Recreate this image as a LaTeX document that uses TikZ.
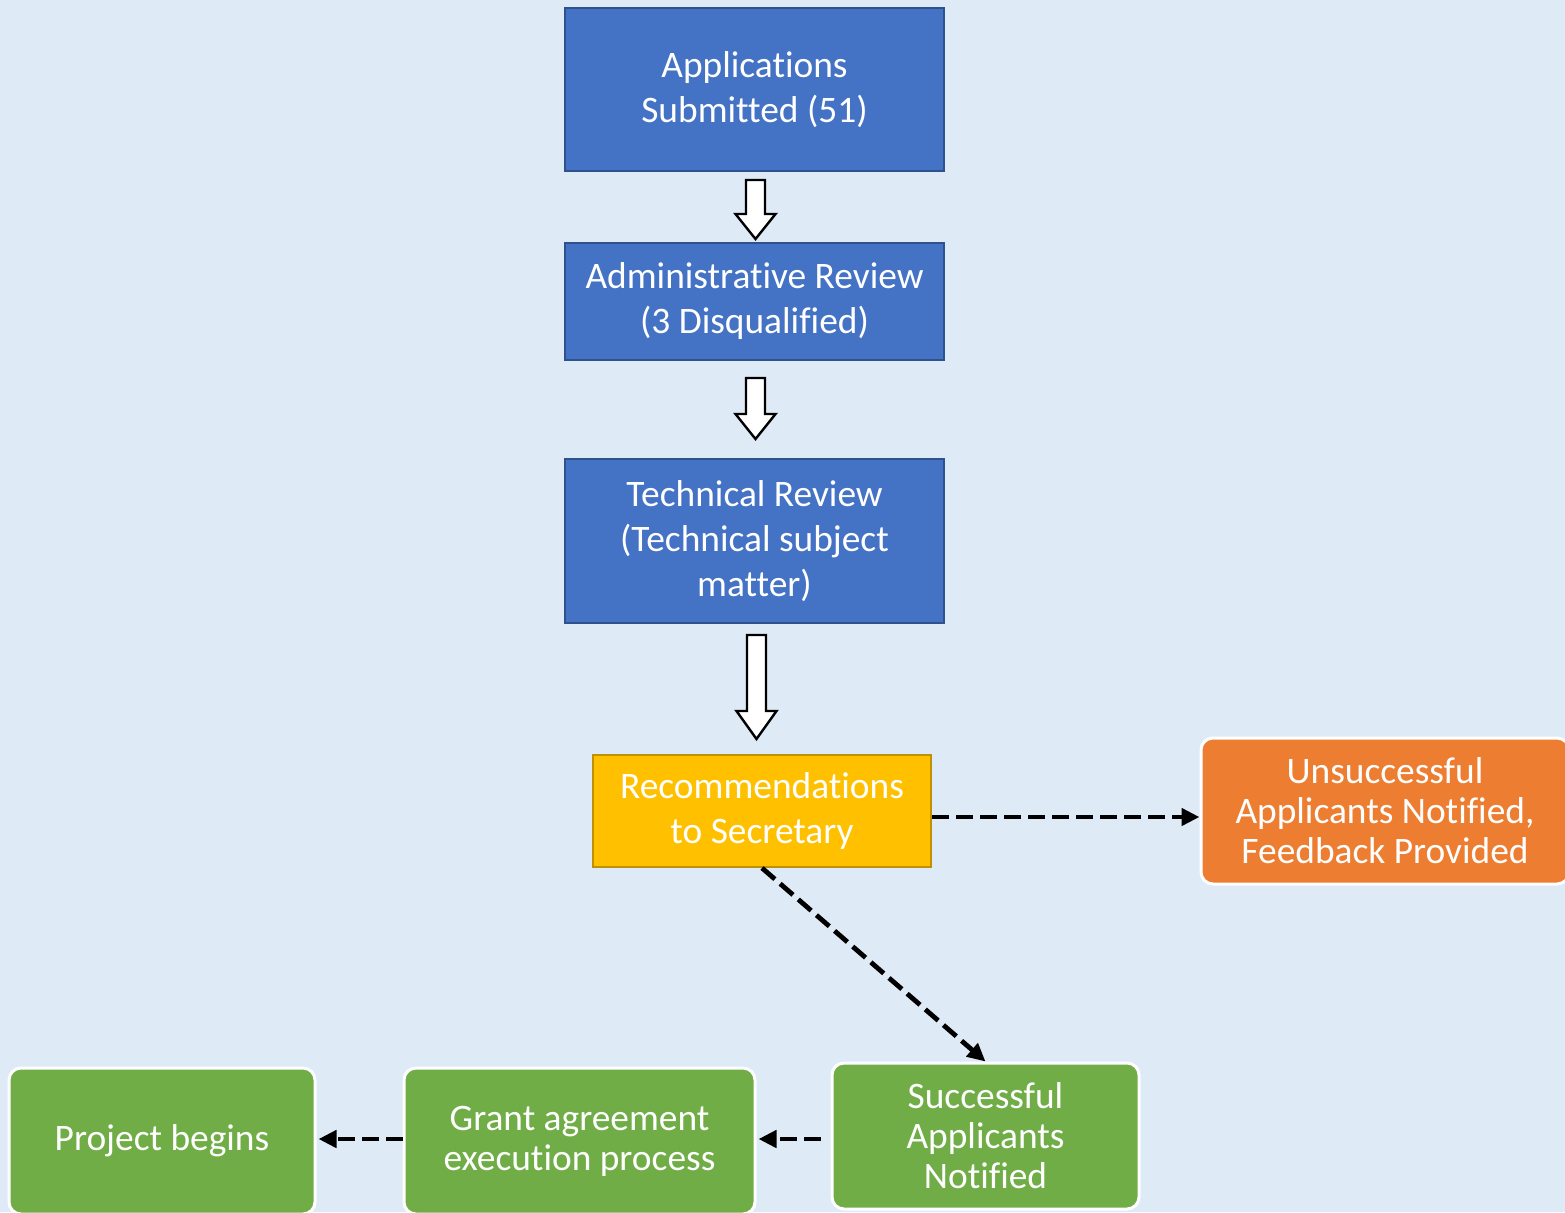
\documentclass[tikz,border=0pt]{standalone}
\usepackage{fontspec}
\setmainfont{Carlito}[Ligatures={NoCommon,NoRequired}]
\usetikzlibrary{arrows.meta,calc}
\definecolor{bg}{HTML}{DEEAF6}
\definecolor{blfill}{HTML}{4472C4}
\definecolor{bldraw}{HTML}{2F528F}
\definecolor{yefill}{HTML}{FFC000}
\definecolor{yedraw}{HTML}{BF9000}
\definecolor{orfill}{HTML}{ED7D31}
\definecolor{grfill}{HTML}{70AD47}
\tikzset{
  bluebox/.style={draw=bldraw, fill=blfill, line width=1pt, text=white, align=center,
    font=\fontsize{18.7}{22.5}\selectfont, inner sep=0pt},
  yellowbox/.style={draw=yedraw, fill=yefill, line width=1pt, text=white, align=center,
    font=\fontsize{18.7}{22.5}\selectfont, inner sep=0pt},
  roundbox/.style={draw=white, line width=1.5pt, rounded corners=6pt, text=white, align=center,
    font=\fontsize{18.7}{20}\selectfont, inner sep=0pt},
  blockarrow/.style={draw=black, fill=white, line width=1.2pt, line join=miter},
  dasharrow/.style={draw=black, line width=2.4pt, dash pattern=on 8.5pt off 3.5pt,
    -{Triangle[length=9pt,width=8.5pt]}},
}
\begin{document}
\begin{tikzpicture}[x=0.5pt,y=-0.5pt]
\fill[bg] (0,0) rectangle (1565,1212);
\useasboundingbox (0,0) rectangle (1565,1212);

\node[bluebox, minimum width=189.5pt, minimum height=81.5pt] (app) at (754.5,89.5)
  {Applications\\Submitted (51)};
\node[bluebox, minimum width=189.5pt, minimum height=58.5pt] (adm) at (754.5,301.5)
  {Administrative Review\\(3 Disqualified)};
\node[bluebox, minimum width=189.5pt, minimum height=82pt] (tech) at (754.5,541)
  {Technical Review\\(Technical subject\\matter)};
\node[yellowbox, minimum width=169pt, minimum height=56pt] (rec) at (762,811)
  {Recommendations\\to Secretary};
\node[roundbox, fill=orfill, minimum width=184pt, minimum height=73pt] (uns) at (1385,811)
  {Unsuccessful\\Applicants Notified,\\Feedback Provided};
\node[roundbox, fill=grfill, minimum width=153.5pt, minimum height=73pt] (suc) at (985.5,1136)
  {Successful\\Applicants\\Notified};
\node[roundbox, fill=grfill, minimum width=175.5pt, minimum height=73pt] (gra) at (579.5,1141)
  {Grant agreement\\execution process};
\node[roundbox, fill=grfill, minimum width=153pt, minimum height=73pt] (pro) at (162,1141)
  {Project begins};

% block arrows
\coordinate (t1) at ($(app.south)+(1,8)$);
\coordinate (b1) at ($(adm.north)+(1,-3)$);
\draw[blockarrow] ($(t1)+(-9.5,0)$) -- ($(t1)+(9.5,0)$) -- ($(b1)+(9.5,-25)$) -- ($(b1)+(20,-25)$)
  -- (b1) -- ($(b1)+(-20,-25)$) -- ($(b1)+(-9.5,-25)$) -- cycle;
\coordinate (t2) at ($(adm.south)+(1,17)$);
\coordinate (b2) at ($(tech.north)+(1,-19)$);
\draw[blockarrow] ($(t2)+(-9.5,0)$) -- ($(t2)+(9.5,0)$) -- ($(b2)+(9.5,-25)$) -- ($(b2)+(20,-25)$)
  -- (b2) -- ($(b2)+(-20,-25)$) -- ($(b2)+(-9.5,-25)$) -- cycle;
\coordinate (t3) at ($(tech.south)+(2,11)$);
\coordinate (b3) at ($(tech.south |- rec.north)+(2,-15)$);
\draw[blockarrow] ($(t3)+(-9.5,0)$) -- ($(t3)+(9.5,0)$) -- ($(b3)+(9.5,-28)$) -- ($(b3)+(20,-28)$)
  -- (b3) -- ($(b3)+(-20,-28)$) -- ($(b3)+(-9.5,-28)$) -- cycle;

% dashed arrows
\draw[dasharrow] ([yshift=-3pt]rec.east) -- ([yshift=-3pt]uns.west);
\draw[dasharrow] (rec.south) -- (suc.north);
\draw[dasharrow, shorten <=5pt, shorten >=1pt] ([yshift=1pt]suc.west |- gra.east) -- ([yshift=1pt]gra.east);
\draw[dasharrow, shorten >=1pt] ([yshift=1pt]gra.west) -- ([yshift=1pt]pro.east);
\end{tikzpicture}
\end{document}
